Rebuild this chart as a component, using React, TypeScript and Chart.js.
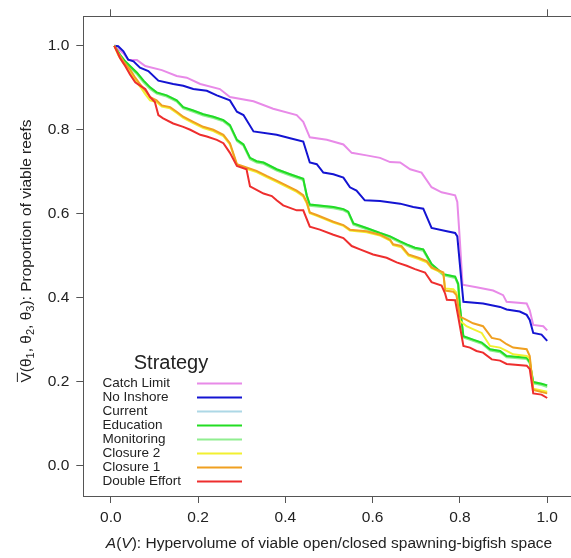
import { useEffect, useRef } from "react";
import { Chart, registerables } from "chart.js";

Chart.register(...registerables);

type Pt = [number, number];

const strategies = [
  "Catch Limit",
  "No Inshore",
  "Current",
  "Education",
  "Monitoring",
  "Closure 2",
  "Closure 1",
  "Double Effort",
];

const colors = [
  "#E88AE8",
  "#1414D2",
  "#ADD8E6",
  "#22DD22",
  "#90EE90",
  "#F2F030",
  "#F0A020",
  "#EE2E2E",
];

const xTicks = [0, 0.2, 0.4, 0.6, 0.8, 1.0];
const yTicks = [0, 0.2, 0.4, 0.6, 0.8, 1.0];

const catchLimit: Pt[] = [
  [0.008, 1.0], [0.029, 0.982], [0.04, 0.967], [0.06, 0.966], [0.079, 0.952], [0.117, 0.942],
  [0.151, 0.928], [0.174, 0.924], [0.205, 0.909], [0.25, 0.897], [0.273, 0.878], [0.327, 0.868],
  [0.372, 0.85], [0.426, 0.835], [0.441, 0.819], [0.456, 0.782], [0.495, 0.776], [0.533, 0.765],
  [0.552, 0.745], [0.586, 0.739], [0.617, 0.733], [0.64, 0.723], [0.663, 0.722], [0.686, 0.706],
  [0.712, 0.698], [0.735, 0.663], [0.758, 0.651], [0.789, 0.644], [0.794, 0.628], [0.8, 0.534],
  [0.806, 0.431], [0.838, 0.425], [0.876, 0.417], [0.899, 0.406], [0.907, 0.39], [0.953, 0.386],
  [0.96, 0.37], [0.968, 0.335], [0.991, 0.332], [1.0, 0.322],
];

const noInshore: Pt[] = [
  [0.008, 1.0], [0.017, 0.999], [0.029, 0.987], [0.04, 0.967], [0.052, 0.963], [0.067, 0.948],
  [0.086, 0.94], [0.109, 0.917], [0.143, 0.909], [0.166, 0.905], [0.189, 0.897], [0.22, 0.893],
  [0.243, 0.882], [0.273, 0.87], [0.289, 0.843], [0.304, 0.835], [0.327, 0.796], [0.38, 0.788],
  [0.411, 0.78], [0.441, 0.772], [0.456, 0.722], [0.472, 0.718], [0.487, 0.698], [0.51, 0.694],
  [0.533, 0.686], [0.548, 0.663], [0.563, 0.655], [0.582, 0.632], [0.617, 0.63], [0.663, 0.624],
  [0.693, 0.616], [0.716, 0.612], [0.735, 0.566], [0.77, 0.558], [0.789, 0.554], [0.794, 0.546],
  [0.804, 0.433], [0.808, 0.39], [0.853, 0.386], [0.892, 0.378], [0.907, 0.372], [0.937, 0.367],
  [0.953, 0.359], [0.96, 0.347], [0.968, 0.316], [0.987, 0.312], [1.0, 0.297],
];

const current: Pt[] = [
  [0.008, 1.0], [0.021, 0.979], [0.033, 0.963], [0.044, 0.952], [0.06, 0.936], [0.075, 0.917],
  [0.09, 0.901], [0.105, 0.889], [0.128, 0.882], [0.151, 0.87], [0.166, 0.854], [0.189, 0.846],
  [0.212, 0.837], [0.235, 0.831], [0.258, 0.823], [0.273, 0.811], [0.289, 0.776], [0.304, 0.765],
  [0.319, 0.733], [0.334, 0.725], [0.35, 0.722], [0.38, 0.706], [0.411, 0.694], [0.441, 0.683],
  [0.449, 0.644], [0.456, 0.622], [0.472, 0.62], [0.51, 0.616], [0.533, 0.611], [0.544, 0.605],
  [0.556, 0.577], [0.586, 0.566], [0.617, 0.554], [0.64, 0.546], [0.663, 0.534], [0.678, 0.527],
  [0.697, 0.519], [0.716, 0.515], [0.735, 0.48], [0.762, 0.456], [0.789, 0.45], [0.796, 0.433],
  [0.8, 0.378], [0.808, 0.308], [0.83, 0.3], [0.85, 0.293], [0.869, 0.277], [0.892, 0.273],
  [0.907, 0.261], [0.953, 0.257], [0.96, 0.246], [0.968, 0.199], [0.987, 0.195], [1.0, 0.191],
];

const education: Pt[] = [
  [0.008, 1.0], [0.021, 0.979], [0.033, 0.963], [0.044, 0.952], [0.06, 0.936], [0.075, 0.917],
  [0.09, 0.901], [0.105, 0.889], [0.128, 0.882], [0.151, 0.87], [0.166, 0.854], [0.189, 0.846],
  [0.212, 0.837], [0.235, 0.831], [0.258, 0.823], [0.273, 0.811], [0.289, 0.776], [0.304, 0.765],
  [0.319, 0.733], [0.334, 0.725], [0.35, 0.722], [0.38, 0.706], [0.411, 0.694], [0.441, 0.683],
  [0.449, 0.644], [0.456, 0.622], [0.472, 0.62], [0.51, 0.616], [0.533, 0.611], [0.544, 0.605],
  [0.556, 0.577], [0.586, 0.566], [0.617, 0.554], [0.64, 0.546], [0.663, 0.534], [0.678, 0.527],
  [0.697, 0.519], [0.716, 0.515], [0.735, 0.48], [0.762, 0.456], [0.789, 0.45], [0.796, 0.433],
  [0.8, 0.378], [0.808, 0.308], [0.83, 0.3], [0.85, 0.293], [0.869, 0.277], [0.892, 0.273],
  [0.907, 0.261], [0.953, 0.257], [0.96, 0.246], [0.968, 0.199], [0.987, 0.195], [1.0, 0.191],
];

const monitoring: Pt[] = [
  [0.008, 1.0], [0.021, 0.976], [0.033, 0.96], [0.044, 0.948], [0.06, 0.932], [0.075, 0.913],
  [0.09, 0.897], [0.105, 0.886], [0.128, 0.879], [0.151, 0.867], [0.166, 0.851], [0.189, 0.843],
  [0.212, 0.834], [0.235, 0.828], [0.258, 0.82], [0.273, 0.808], [0.289, 0.773], [0.304, 0.762],
  [0.319, 0.73], [0.334, 0.722], [0.35, 0.719], [0.38, 0.703], [0.411, 0.691], [0.441, 0.68],
  [0.449, 0.641], [0.456, 0.619], [0.472, 0.617], [0.51, 0.613], [0.533, 0.608], [0.544, 0.602],
  [0.556, 0.574], [0.586, 0.563], [0.617, 0.551], [0.64, 0.543], [0.663, 0.531], [0.678, 0.524],
  [0.697, 0.516], [0.716, 0.512], [0.735, 0.477], [0.762, 0.453], [0.789, 0.447], [0.796, 0.43],
  [0.8, 0.375], [0.808, 0.305], [0.83, 0.297], [0.85, 0.29], [0.869, 0.274], [0.892, 0.27],
  [0.907, 0.258], [0.953, 0.254], [0.96, 0.243], [0.968, 0.196], [0.987, 0.192], [1.0, 0.187],
];

const closure2: Pt[] = [
  [0.008, 1.0], [0.017, 0.978], [0.029, 0.958], [0.044, 0.938], [0.056, 0.918], [0.067, 0.903],
  [0.079, 0.885], [0.09, 0.87], [0.105, 0.866], [0.117, 0.855], [0.136, 0.851], [0.151, 0.84],
  [0.166, 0.828], [0.189, 0.816], [0.212, 0.804], [0.235, 0.797], [0.258, 0.785], [0.273, 0.765],
  [0.289, 0.716], [0.311, 0.707], [0.334, 0.699], [0.357, 0.687], [0.38, 0.676], [0.403, 0.664],
  [0.426, 0.652], [0.441, 0.641], [0.449, 0.625], [0.456, 0.601], [0.472, 0.595], [0.51, 0.579],
  [0.533, 0.571], [0.548, 0.56], [0.586, 0.556], [0.617, 0.548], [0.64, 0.536], [0.647, 0.525],
  [0.666, 0.52], [0.682, 0.5], [0.705, 0.492], [0.724, 0.484], [0.735, 0.47], [0.762, 0.458],
  [0.766, 0.422], [0.785, 0.42], [0.792, 0.412], [0.8, 0.345], [0.815, 0.332], [0.83, 0.325],
  [0.85, 0.316], [0.869, 0.285], [0.892, 0.281], [0.907, 0.273], [0.922, 0.265], [0.953, 0.261],
  [0.96, 0.255], [0.968, 0.183], [1.0, 0.176],
];

const closure1: Pt[] = [
  [0.008, 1.0], [0.017, 0.983], [0.029, 0.963], [0.044, 0.944], [0.056, 0.924], [0.067, 0.909],
  [0.079, 0.893], [0.09, 0.878], [0.105, 0.87], [0.117, 0.858], [0.136, 0.854], [0.151, 0.843],
  [0.166, 0.831], [0.189, 0.819], [0.212, 0.807], [0.235, 0.8], [0.258, 0.788], [0.273, 0.768],
  [0.289, 0.718], [0.311, 0.71], [0.334, 0.702], [0.357, 0.69], [0.38, 0.679], [0.403, 0.667],
  [0.426, 0.655], [0.441, 0.644], [0.449, 0.628], [0.456, 0.603], [0.472, 0.597], [0.51, 0.581],
  [0.533, 0.573], [0.548, 0.562], [0.586, 0.558], [0.617, 0.55], [0.64, 0.538], [0.647, 0.527],
  [0.666, 0.523], [0.682, 0.503], [0.705, 0.495], [0.724, 0.487], [0.735, 0.472], [0.762, 0.46],
  [0.766, 0.417], [0.785, 0.414], [0.792, 0.406], [0.8, 0.355], [0.815, 0.347], [0.83, 0.339],
  [0.853, 0.332], [0.873, 0.304], [0.892, 0.3], [0.907, 0.289], [0.922, 0.281], [0.953, 0.277],
  [0.96, 0.261], [0.968, 0.18], [1.0, 0.172],
];

const doubleEffort: Pt[] = [
  [0.008, 1.0], [0.014, 0.987], [0.021, 0.971], [0.033, 0.952], [0.044, 0.932], [0.056, 0.913],
  [0.067, 0.905], [0.079, 0.897], [0.09, 0.878], [0.101, 0.866], [0.109, 0.835], [0.12, 0.827],
  [0.143, 0.815], [0.166, 0.807], [0.182, 0.8], [0.205, 0.788], [0.22, 0.784], [0.243, 0.776],
  [0.258, 0.768], [0.273, 0.745], [0.289, 0.714], [0.311, 0.706], [0.319, 0.665], [0.334, 0.657],
  [0.35, 0.648], [0.369, 0.642], [0.38, 0.632], [0.395, 0.62], [0.426, 0.608], [0.441, 0.608],
  [0.456, 0.569], [0.479, 0.562], [0.51, 0.55], [0.533, 0.542], [0.552, 0.523], [0.571, 0.515],
  [0.601, 0.503], [0.632, 0.495], [0.655, 0.484], [0.678, 0.476], [0.697, 0.468], [0.72, 0.46],
  [0.735, 0.437], [0.758, 0.429], [0.766, 0.41], [0.77, 0.395], [0.789, 0.394], [0.796, 0.355],
  [0.808, 0.285], [0.823, 0.281], [0.838, 0.273], [0.853, 0.269], [0.873, 0.253], [0.892, 0.25],
  [0.907, 0.242], [0.953, 0.238], [0.96, 0.23], [0.968, 0.172], [0.987, 0.169], [1.0, 0.161],
];

const series: Pt[][] = [
  catchLimit,
  noInshore,
  current,
  education,
  monitoring,
  closure2,
  closure1,
  doubleEffort,
];

// drawing order: later strategies on top (Chart.js: lower order drawn on top)
const drawOrder = [7, 6, 5, 3, 4, 2, 1, 0];

const FONT = "'Liberation Sans', Arial, Helvetica, sans-serif";
const TEXT = "#222222";
const AXIS = "#555555";
const FS = 15.5;

type Piece = { t: string; size: number; italic?: boolean; dy?: number; overline?: boolean };

function drawRich(ctx: CanvasRenderingContext2D, pieces: Piece[], cx: number, cy: number) {
  const fontOf = (p: Piece) => `${p.italic ? "italic " : ""}${p.size}px ${FONT}`;
  let total = 0;
  const widths = pieces.map((p) => {
    ctx.font = fontOf(p);
    const w = ctx.measureText(p.t).width;
    total += w;
    return w;
  });
  let x = cx - total / 2;
  ctx.textBaseline = "middle";
  ctx.textAlign = "left";
  pieces.forEach((p, i) => {
    ctx.font = fontOf(p);
    ctx.fillText(p.t, x, cy + (p.dy || 0));
    if (p.overline) {
      ctx.beginPath();
      ctx.lineWidth = 1;
      ctx.moveTo(x + 0.5, cy - p.size * 0.62);
      ctx.lineTo(x + widths[i] - 0.5, cy - p.size * 0.62);
      ctx.stroke();
    }
    x += widths[i];
  });
}

const overlayPlugin = {
  id: "overlay",
  afterDraw(chart: any) {
    const ctx: CanvasRenderingContext2D = chart.ctx;
    ctx.save();
    ctx.fillStyle = TEXT;
    ctx.strokeStyle = TEXT;

    // x-axis title
    drawRich(
      ctx,
      [
        { t: "A", size: FS, italic: true },
        { t: "(", size: FS },
        { t: "V", size: FS, italic: true },
        { t: ")", size: FS },
        { t: ": Hypervolume of viable open/closed spawning-bigfish space", size: FS },
      ],
      329,
      543.5
    );

    // y-axis title
    ctx.save();
    ctx.translate(27, 251);
    ctx.rotate(-Math.PI / 2);
    drawRich(
      ctx,
      [
        { t: "V", size: FS, overline: true },
        { t: "(θ", size: FS },
        { t: "1", size: 11, dy: 4 },
        { t: ", θ", size: FS },
        { t: "2", size: 11, dy: 4 },
        { t: ", θ", size: FS },
        { t: "3", size: 11, dy: 4 },
        { t: "): Proportion of viable reefs", size: FS },
      ],
      0,
      0
    );
    ctx.restore();

    // legend
    ctx.textBaseline = "middle";
    ctx.textAlign = "center";
    ctx.font = `20px ${FONT}`;
    ctx.fillText("Strategy", 171, 363);
    ctx.textAlign = "left";
    ctx.font = `13.5px ${FONT}`;
    strategies.forEach((name, i) => {
      const y = 383.5 + i * 14;
      ctx.fillStyle = TEXT;
      ctx.fillText(name, 102.5, y);
      ctx.beginPath();
      ctx.strokeStyle = colors[i];
      ctx.lineWidth = 2;
      ctx.moveTo(197, y);
      ctx.lineTo(242, y);
      ctx.stroke();
    });
    ctx.restore();
  },
};

export default function App() {
  const ref = useRef<HTMLCanvasElement>(null);

  useEffect(() => {
    const canvas = ref.current;
    if (!canvas) return;
    const chart = new Chart(canvas, {
      type: "line",
      data: {
        datasets: strategies.map((name, i) => ({
          label: name,
          data: series[i].map(([x, y]) => ({ x, y })),
          borderColor: colors[i],
          backgroundColor: colors[i],
          borderWidth: 2,
          pointRadius: 0,
          pointHoverRadius: 0,
          fill: false,
          tension: 0,
          order: drawOrder[i],
        })),
      },
      options: {
        responsive: false,
        animation: false,
        events: [],
        layout: { padding: { left: 0, top: 0, right: 5.3, bottom: 0 } },
        plugins: {
          legend: { display: false },
          tooltip: { enabled: false },
          title: { display: false },
        },
        scales: {
          x: {
            type: "linear",
            position: "bottom",
            min: -0.063,
            max: 1.063,
            afterBuildTicks: (scale: any) => {
              scale.ticks = xTicks.map((v) => ({ value: v }));
            },
            afterFit: (scale: any) => {
              scale.height = 62;
            },
            grid: {
              display: true,
              drawOnChartArea: false,
              drawTicks: true,
              tickLength: 7,
              color: AXIS,
              tickColor: AXIS,
            },
            border: { display: true, color: AXIS, width: 1 },
            ticks: {
              autoSkip: false,
              maxRotation: 0,
              padding: 5,
              color: TEXT,
              font: { family: FONT, size: FS },
              callback: (v: any) => Number(v).toFixed(1),
            },
          },
          xTop: {
            type: "linear",
            position: "top",
            min: -0.063,
            max: 1.063,
            afterBuildTicks: (scale: any) => {
              scale.ticks = [0, 1].map((v) => ({ value: v }));
            },
            afterFit: (scale: any) => {
              scale.height = 7.7;
            },
            grid: {
              display: true,
              drawOnChartArea: false,
              drawTicks: true,
              tickLength: 7,
              color: AXIS,
              tickColor: AXIS,
            },
            border: { display: true, color: AXIS, width: 1 },
            ticks: { display: false },
          },
          y: {
            type: "linear",
            position: "left",
            min: -0.0725,
            max: 1.0703,
            afterBuildTicks: (scale: any) => {
              scale.ticks = yTicks.map((v) => ({ value: v }));
            },
            afterFit: (scale: any) => {
              scale.width = 83.3;
            },
            grid: {
              display: true,
              drawOnChartArea: false,
              drawTicks: true,
              tickLength: 7,
              color: AXIS,
              tickColor: AXIS,
            },
            border: { display: true, color: AXIS, width: 1 },
            ticks: {
              autoSkip: false,
              padding: 7,
              color: TEXT,
              font: { family: FONT, size: FS },
              callback: (v: any) => Number(v).toFixed(1),
            },
          },
        },
      },
      plugins: [overlayPlugin],
    } as any);
    return () => chart.destroy();
  }, []);

  return (
    <div
      style={{
        position: "fixed",
        left: 0,
        top: 0,
        width: 571,
        height: 558,
        overflow: "hidden",
        background: "#ffffff",
      }}
    >
      <canvas ref={ref} width={580} height={558} style={{ display: "block", width: 580, height: 558 }} />
    </div>
  );
}
